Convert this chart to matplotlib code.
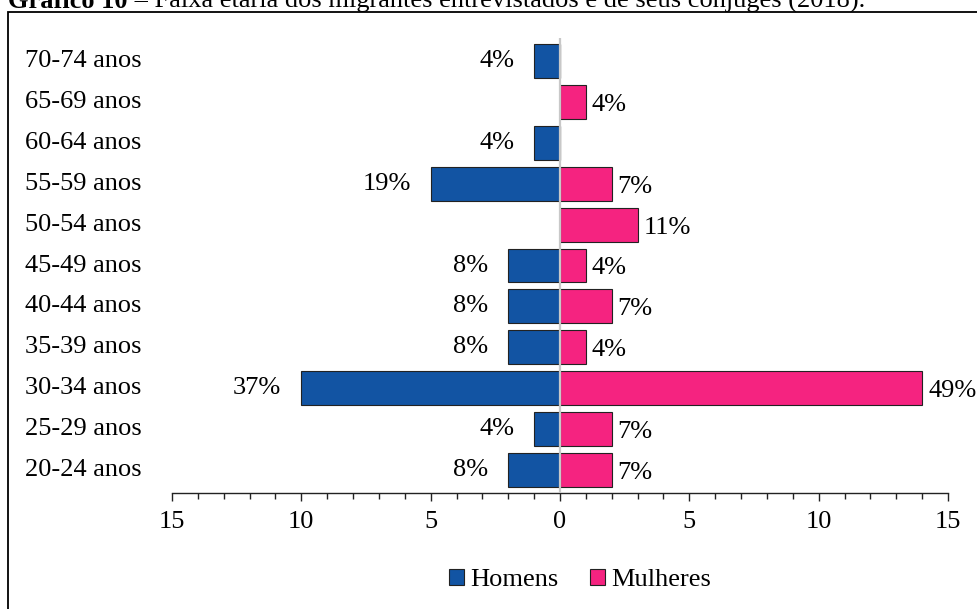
import matplotlib.pyplot as plt
from matplotlib.patches import Patch, Rectangle
from matplotlib.ticker import MultipleLocator, FuncFormatter
from matplotlib import transforms

plt.rcParams['font.family'] = ['Liberation Serif', 'DejaVu Serif']

# age groups from youngest (bottom) to oldest (top)
age_groups = ["20-24 anos", "25-29 anos", "30-34 anos", "35-39 anos", "40-44 anos",
              "45-49 anos", "50-54 anos", "55-59 anos", "60-64 anos", "65-69 anos",
              "70-74 anos"]
homens = [2, 1, 10, 2, 2, 2, 0, 5, 1, 0, 1]
mulheres = [2, 2, 14, 1, 2, 1, 3, 2, 0, 1, 0]
homens_pct = ["8%", "4%", "37%", "8%", "8%", "8%", "", "19%", "4%", "", "4%"]
mulheres_pct = ["7%", "7%", "49%", "4%", "7%", "4%", "11%", "7%", "", "4%", ""]

BLUE = "#1254A3"
PINK = "#F52380"
W, H = 977, 609
FS = 19

fig = plt.figure(figsize=(W / 100, H / 100), dpi=100)

# outer frame (cut by the image edges on the right and bottom)
fig.patches.append(Rectangle((8 / W, -0.1), 1.2, 1 - 12 / H + 0.1,
                             transform=fig.transFigure, fill=False,
                             edgecolor="black", lw=1.3))

# title, partly cut at the top of the picture as in the source
t1 = fig.text(8 / W, 1 - 8 / H, "Gráfico 10", fontsize=FS, fontweight="bold",
              va="baseline", ha="left")
fig.add_artist(plt.Annotation(
    " – Faixa etária dos migrantes entrevistados e de seus cônjuges (2018).",
    xy=(1, 0), xycoords=t1, va="bottom", ha="left", fontsize=FS))

ax = fig.add_axes([172 / W, 1 - 493 / H, (948 - 172) / W, (493 - 38) / H])
y = list(range(len(age_groups)))
ax.barh(y, [-v for v in homens], height=0.83, color=BLUE, edgecolor="#222222",
        lw=0.8, zorder=2)
ax.barh(y, mulheres, height=0.83, color=PINK, edgecolor="#222222", lw=0.8,
        zorder=2)
ax.axvline(0, color="#C8C8C8", lw=1.6, zorder=3)

ax.set_xlim(-15, 15)
ax.set_ylim(-0.56, len(age_groups) - 0.44)

for yi, v, lab in zip(y, homens, homens_pct):
    if lab:
        ax.annotate(lab, xy=(-v, yi), xytext=(-20, 0), textcoords="offset pixels",
                    ha="right", va="center", fontsize=FS)
for yi, v, lab in zip(y, mulheres, mulheres_pct):
    if lab:
        ax.annotate(lab, xy=(v, yi), xytext=(6, -3), textcoords="offset pixels",
                    ha="left", va="center", fontsize=FS)

# category labels at the far left of the frame
lab_tr = transforms.blended_transform_factory(fig.transFigure, ax.transData)
for yi, g in zip(y, age_groups):
    ax.text(25 / W, yi, g, transform=lab_tr, ha="left", va="center", fontsize=FS)

ax.set_yticks([])
for s in ["left", "right", "top"]:
    ax.spines[s].set_visible(False)
ax.spines["bottom"].set_color("#222222")
ax.spines["bottom"].set_linewidth(1.0)
ax.xaxis.set_major_locator(MultipleLocator(5))
ax.xaxis.set_minor_locator(MultipleLocator(1))
ax.xaxis.set_major_formatter(FuncFormatter(lambda v, p: f"{abs(v):.0f}"))
ax.tick_params(axis="x", which="major", length=6, width=1, color="#222222",
               labelsize=FS, pad=7)
ax.tick_params(axis="x", which="minor", length=4.5, width=1, color="#222222")

handles = [Patch(facecolor=BLUE, edgecolor="#222222", lw=0.8, label="Homens"),
           Patch(facecolor=PINK, edgecolor="#222222", lw=0.8, label="Mulheres")]
fig.legend(handles=handles, loc="center", bbox_to_anchor=(580 / W, 1 - 580 / H),
           ncol=2, frameon=False, fontsize=FS, handlelength=0.55,
           handleheight=0.55, handletextpad=0.25, columnspacing=1.2)

fig.savefig("out.png", dpi=100)
